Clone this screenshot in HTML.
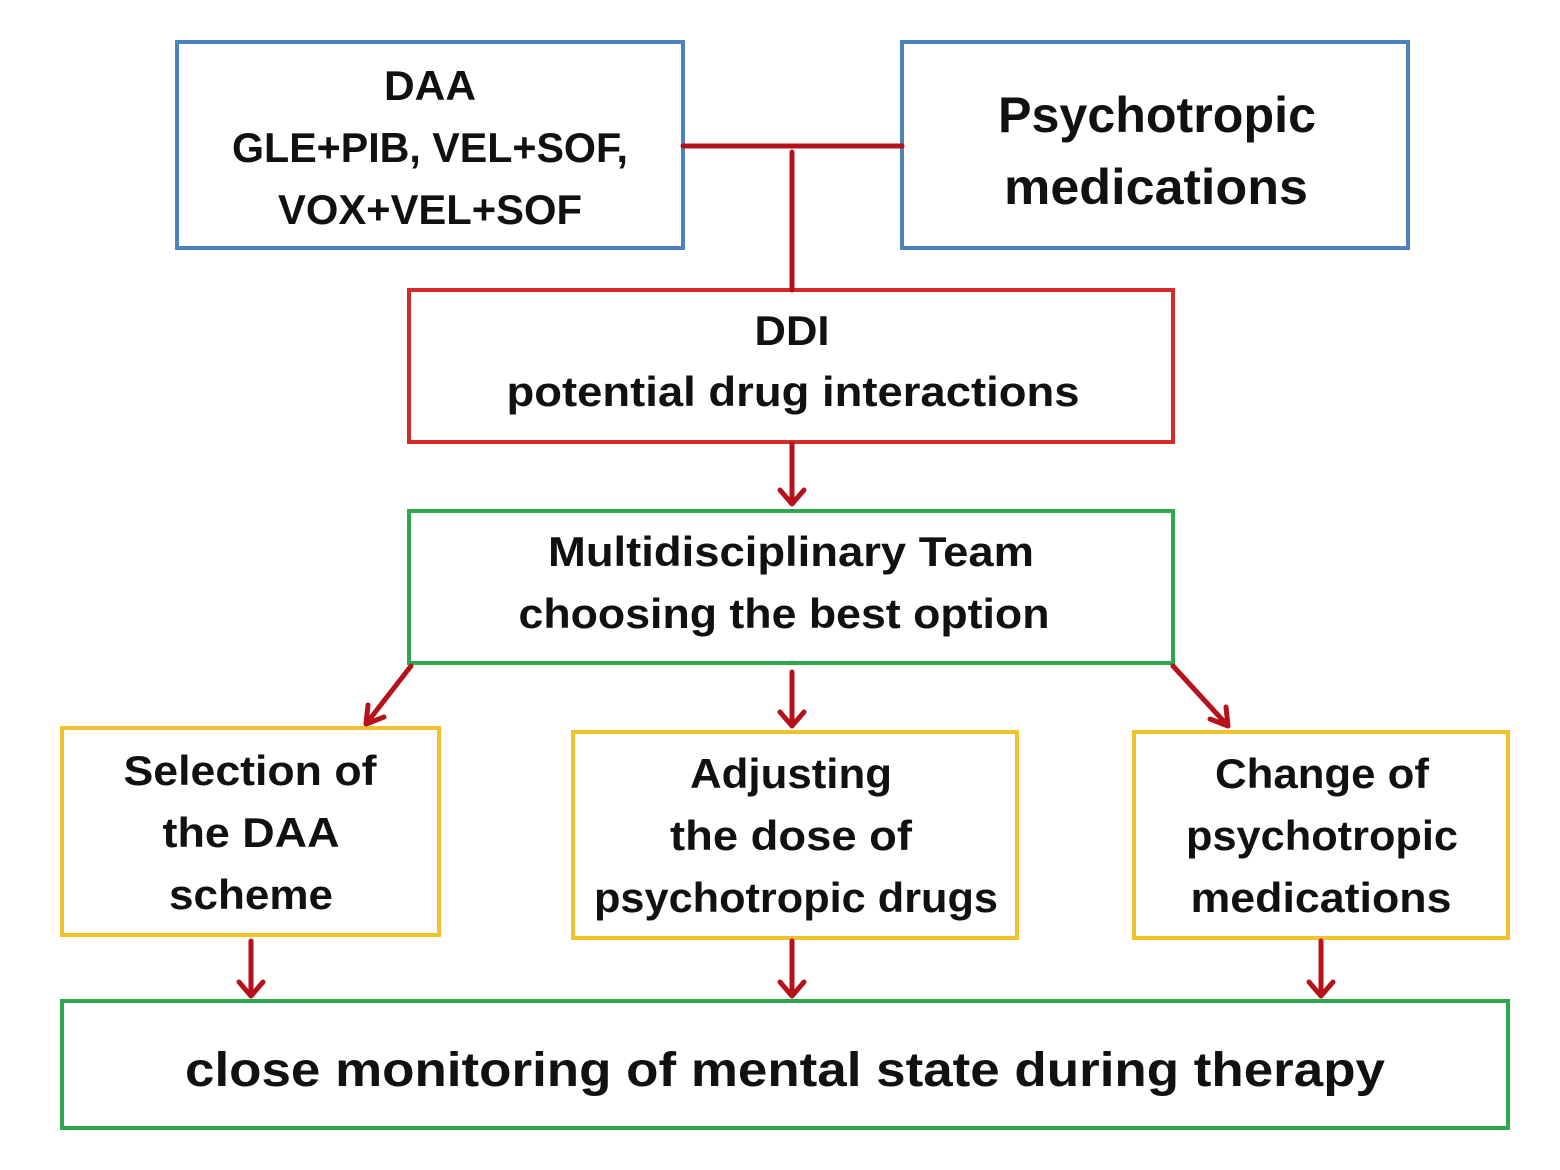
<!DOCTYPE html>
<html><head><meta charset="utf-8"><style>body{margin:0;background:#fff}svg{display:block}</style></head>
<body>
<svg width="1560" height="1170" viewBox="0 0 1560 1170" xmlns="http://www.w3.org/2000/svg">
<g fill="none" stroke-width="4">
<rect x="177" y="42" width="506" height="206" stroke="#4f81bd"/>
<rect x="902" y="42" width="506" height="206" stroke="#4f81bd"/>
<rect x="409" y="290" width="764" height="152" stroke="#d42a2a"/>
<rect x="409" y="511" width="764" height="152" stroke="#2ea84f"/>
<rect x="62" y="728" width="377" height="207" stroke="#f2c22a"/>
<rect x="573" y="732" width="444" height="206" stroke="#f2c22a"/>
<rect x="1134" y="732" width="374" height="206" stroke="#f2c22a"/>
<rect x="62" y="1001" width="1446" height="127" stroke="#2ea84f"/>
</g>
<g fill="none" stroke="#b5121b" stroke-width="5" stroke-linecap="round" stroke-linejoin="round">
<path d="M683 146H902M792 152V290"/>
<path d="M792 444V504M780 490L792 504L804 490"/>
<path d="M411 666L366 724M368 705L366 724L384 717"/>
<path d="M792 672V726M780 712L792 726L804 712"/>
<path d="M1173 666L1228 726M1210 719L1228 726L1226 707"/>
<path d="M251 941V996M239 982L251 996L263 982"/>
<path d="M792 941V996M780 982L792 996L804 982"/>
<path d="M1321 941V996M1309 982L1321 996L1333 982"/>
</g>
<g font-family="Liberation Sans, sans-serif" font-weight="bold" fill="#111" text-anchor="middle" font-size="42" lengthAdjust="spacingAndGlyphs">
<text x="430" y="100" textLength="92" lengthAdjust="spacingAndGlyphs">DAA</text>
<text x="430" y="162" textLength="396" lengthAdjust="spacingAndGlyphs">GLE+PIB, VEL+SOF,</text>
<text x="430" y="224" textLength="304" lengthAdjust="spacingAndGlyphs">VOX+VEL+SOF</text>
<text x="1157" y="132" font-size="50" textLength="318" lengthAdjust="spacingAndGlyphs">Psychotropic</text>
<text x="1156" y="204" font-size="50" textLength="304" lengthAdjust="spacingAndGlyphs">medications</text>
<text x="792" y="345" textLength="75" lengthAdjust="spacingAndGlyphs">DDI</text>
<text x="793" y="406" textLength="573" lengthAdjust="spacingAndGlyphs">potential drug interactions</text>
<text x="791" y="566" textLength="486" lengthAdjust="spacingAndGlyphs">Multidisciplinary Team</text>
<text x="784" y="628" textLength="531" lengthAdjust="spacingAndGlyphs">choosing the best option</text>
<text x="250" y="785" textLength="253" lengthAdjust="spacingAndGlyphs">Selection of</text>
<text x="251" y="847" textLength="177" lengthAdjust="spacingAndGlyphs">the DAA</text>
<text x="251" y="909" textLength="164" lengthAdjust="spacingAndGlyphs">scheme</text>
<text x="791" y="788" textLength="202" lengthAdjust="spacingAndGlyphs">Adjusting</text>
<text x="791" y="850" textLength="242" lengthAdjust="spacingAndGlyphs">the dose of</text>
<text x="796" y="912" textLength="404" lengthAdjust="spacingAndGlyphs">psychotropic drugs</text>
<text x="1322" y="788" textLength="214" lengthAdjust="spacingAndGlyphs">Change of</text>
<text x="1322" y="850" textLength="272" lengthAdjust="spacingAndGlyphs">psychotropic</text>
<text x="1321" y="912" textLength="261" lengthAdjust="spacingAndGlyphs">medications</text>
<text x="785" y="1086" font-size="48" textLength="1200" lengthAdjust="spacingAndGlyphs">close monitoring of mental state during therapy</text>
</g>
</svg>
</body></html>
